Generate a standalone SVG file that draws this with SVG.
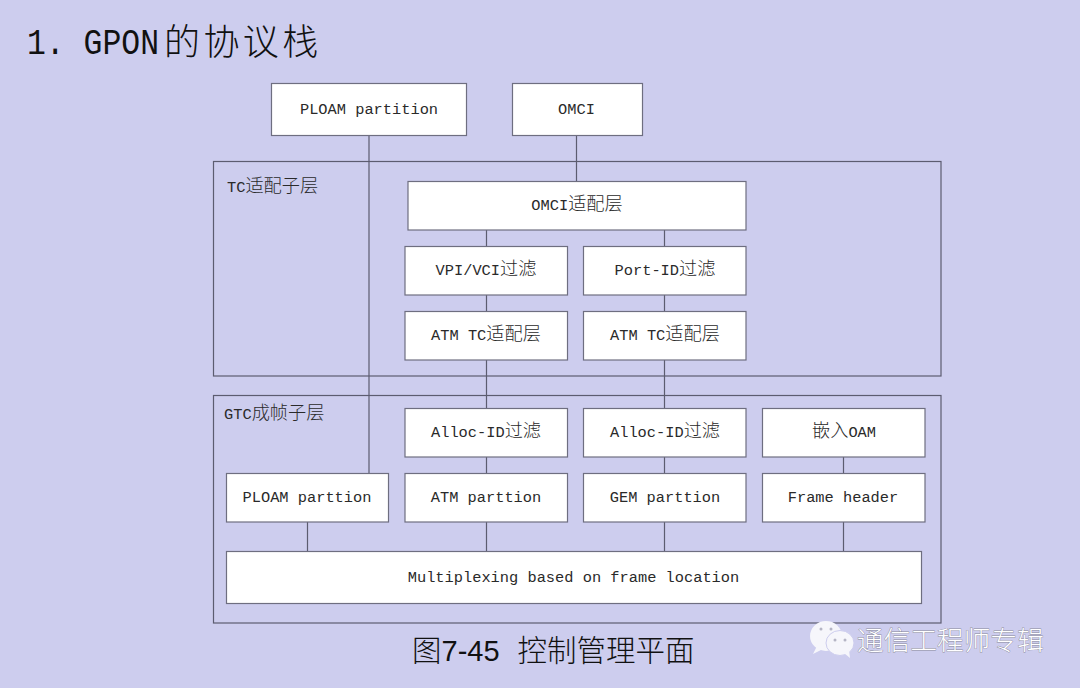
<svg xmlns="http://www.w3.org/2000/svg" width="1080" height="688" viewBox="0 0 1080 688">
<style>
.bg{fill:#cdcdee}
.box{fill:#fff;stroke:#6e6e80;stroke-width:1.2}
.frame{fill:none;stroke:#5c5c70;stroke-width:1.2}
.line{fill:none;stroke:#5c5c70;stroke-width:1.2}
text{font-family:"Liberation Mono","Noto Sans CJK SC",monospace;font-size:15.35px;fill:#2a2a2a}
.m{text-anchor:middle}
.c{font-family:"Noto Sans CJK SC","Liberation Mono",sans-serif;font-size:18.2px;font-weight:300}
.title{font-size:36px;fill:#111}
.tc{font-family:"Noto Sans CJK SC",sans-serif;font-size:36px;font-weight:300;letter-spacing:3.4px;fill:#111}
.cap{font-family:"Liberation Sans","Noto Sans CJK SC",sans-serif;font-size:29px;fill:#111}
.capc{font-family:"Noto Sans CJK SC",sans-serif;font-size:29.5px;font-weight:300}
.wm{font-family:"Noto Sans CJK SC",sans-serif;font-size:26.5px;font-weight:300;fill:#fff;stroke:#8a8a9a;stroke-width:.8;paint-order:stroke;letter-spacing:.2px}
.bub{fill:#f6f6fb}
</style>
<rect class="bg" width="1080" height="688"/>
<g id="heading"><text class="title" x="27" y="54" textLength="132" lengthAdjust="spacingAndGlyphs">1. GPON</text><text class="tc" x="164" y="55">的协议栈</text></g>
<g id="tc-layer"><rect class="frame" x="213.500" y="161.500" width="727.500" height="214.500"/><text x="227" y="192">TC<tspan class="c">适配子层</tspan></text></g>
<g id="gtc-layer"><rect class="frame" x="213.500" y="395.500" width="727.500" height="227.500"/><text x="224" y="419">GTC<tspan class="c">成帧子层</tspan></text></g>
<g id="connectors">
<path class="line" d="M369 135V473M576.500 135V181M486.500 230V246M664.500 230V246M486.500 295V311M664.500 295V311M486.500 360V408M664.500 360V408M486.500 457V473M664.500 457V473M843.500 457V473M307.500 522V551M486.500 522V551M664.500 522V551M843.500 522V551"/>
</g>
<g id="ploam-top"><rect class="box" x="271.500" y="83.500" width="195" height="52"/><text class="m" x="369" y="114">PLOAM partition</text></g>
<g id="omci"><rect class="box" x="512.500" y="83.500" width="130" height="52"/><text class="m" x="576.500" y="114">OMCI</text></g>
<g id="omci-adapt"><rect class="box" x="408" y="181.500" width="338" height="48.500"/><text class="m" x="577" y="210">OMCI<tspan class="c">适配层</tspan></text></g>
<g id="vpi"><rect class="box" x="405" y="246.500" width="162.500" height="48.500"/><text class="m" x="486" y="275">VPI/VCI<tspan class="c">过滤</tspan></text></g>
<g id="port"><rect class="box" x="583.500" y="246.500" width="162.500" height="48.500"/><text class="m" x="665" y="275">Port-ID<tspan class="c">过滤</tspan></text></g>
<g id="atm1"><rect class="box" x="405" y="311.500" width="162.500" height="48.500"/><text class="m" x="486" y="340">ATM TC<tspan class="c">适配层</tspan></text></g>
<g id="atm2"><rect class="box" x="583.500" y="311.500" width="162.500" height="48.500"/><text class="m" x="665" y="340">ATM TC<tspan class="c">适配层</tspan></text></g>
<g id="alloc1"><rect class="box" x="405" y="408.500" width="162.500" height="48.500"/><text class="m" x="486" y="437">Alloc-ID<tspan class="c">过滤</tspan></text></g>
<g id="alloc2"><rect class="box" x="583.500" y="408.500" width="162.500" height="48.500"/><text class="m" x="665" y="437">Alloc-ID<tspan class="c">过滤</tspan></text></g>
<g id="oam"><rect class="box" x="762.500" y="408.500" width="162.500" height="48.500"/><text class="m" x="844" y="437"><tspan class="c">嵌入</tspan>OAM</text></g>
<g id="ploam-part"><rect class="box" x="226.500" y="473.500" width="162" height="48.500"/><text class="m" x="307" y="502">PLOAM parttion</text></g>
<g id="atm-part"><rect class="box" x="405" y="473.500" width="162.500" height="48.500"/><text class="m" x="486" y="502">ATM parttion</text></g>
<g id="gem-part"><rect class="box" x="583.500" y="473.500" width="162.500" height="48.500"/><text class="m" x="665" y="502">GEM parttion</text></g>
<g id="frame-header"><rect class="box" x="762.500" y="473.500" width="162.500" height="48.500"/><text class="m" x="843" y="502">Frame header</text></g>
<g id="mux"><rect class="box" x="226.500" y="551.500" width="695" height="52"/><text class="m" x="573.500" y="582">Multiplexing based on frame location</text></g>
<g id="caption"><text class="cap" x="412" y="661"><tspan class="capc">图</tspan>7-45<tspan class="capc" dx="18">控制管理平面</tspan></text></g>
<g id="watermark">
<ellipse class="bub" cx="826" cy="636" rx="16" ry="15"/><path class="bub" d="M817 646l-4 8 10-5z"/>
<ellipse class="bub" cx="840" cy="643" rx="14" ry="12.500" stroke="#cdcdee"/><path class="bub" d="M844 653l6 5-1-8z"/>
<circle cx="821" cy="629" r="1.500" fill="#b5b5c5"/><circle cx="831" cy="629" r="1.500" fill="#b5b5c5"/><circle cx="835" cy="640" r="1.500" fill="#b5b5c5"/><circle cx="845" cy="640" r="1.500" fill="#b5b5c5"/>
<text class="wm" x="857" y="650">通信工程师专辑</text></g>
</svg>
